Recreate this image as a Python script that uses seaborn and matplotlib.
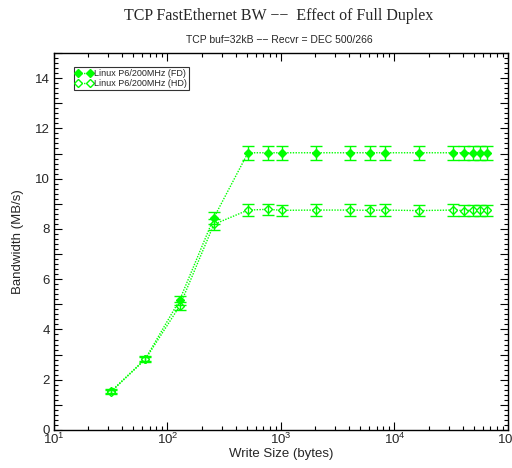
import matplotlib
matplotlib.use("Agg")
import matplotlib.pyplot as plt
import matplotlib.ticker as mticker
from matplotlib.lines import Line2D
import seaborn as sns
import pandas as pd
import numpy as np

sizes = [32, 64, 128, 256, 512, 768, 1024, 2048, 4096, 6144, 8192, 16384,
         32768, 40960, 49152, 57344, 65536]
fd_bw = [1.55, 2.84, 5.17, 8.44, 11.03, 11.03, 11.03, 11.03, 11.03, 11.03, 11.03,
         11.03, 11.03, 11.03, 11.03, 11.03, 11.03]
fd_err = [0.08, 0.1, 0.18, 0.23, 0.28, 0.28, 0.28, 0.28, 0.28, 0.28, 0.28,
          0.28, 0.28, 0.28, 0.28, 0.28, 0.28]
hd_bw = [1.53, 2.82, 4.93, 8.18, 8.75, 8.78, 8.74, 8.75, 8.75, 8.74, 8.75,
         8.73, 8.75, 8.73, 8.74, 8.74, 8.74]
hd_err = [0.08, 0.1, 0.15, 0.23, 0.23, 0.23, 0.23, 0.23, 0.23, 0.23, 0.23,
          0.23, 0.23, 0.23, 0.23, 0.23, 0.23]
labels = ["Linux P6/200MHz (FD)", "Linux P6/200MHz (HD)"]

sns.set_style("ticks")
plt.rcParams['font.family'] = ['Liberation Sans', 'DejaVu Sans']

df = pd.DataFrame({
    "size": sizes * 2,
    "bw": fd_bw + hd_bw,
    "series": [labels[0]] * len(sizes) + [labels[1]] * len(sizes),
})

fig = plt.figure(figsize=(5.12, 4.68), dpi=100)
ax = fig.add_axes([0.1055, 0.0812, 0.8865, 0.8056])

green = "#00ff00"
sns.lineplot(data=df, x="size", y="bw", hue="series", style="series",
             palette=[green, green], markers={labels[0]: "D", labels[1]: "D"},
             dashes={labels[0]: (1, 1), labels[1]: (1, 1)}, ax=ax, lw=1.0,
             markersize=4.2, markeredgewidth=1.0, legend=False)
lines = ax.get_lines()
lines[0].set_markerfacecolor(green)
lines[0].set_markeredgecolor(green)
lines[1].set_markerfacecolor("white")
lines[1].set_markeredgecolor(green)

ax.errorbar(sizes, fd_bw, yerr=fd_err, fmt="none", ecolor=green, elinewidth=1.0,
            capsize=4, capthick=1.0)
ax.errorbar(sizes, hd_bw, yerr=hd_err, fmt="none", ecolor=green, elinewidth=1.0,
            capsize=4, capthick=1.0)

ax.set_xscale("log")
ax.set_xlim(10, 1e5)
ax.set_ylim(0, 15)
ax.yaxis.set_major_locator(mticker.MultipleLocator(1))
ax.yaxis.set_minor_locator(mticker.MultipleLocator(0.2))
ax.yaxis.set_major_formatter(mticker.FuncFormatter(
    lambda v, p: f"{int(round(v))}" if int(round(v)) % 2 == 0 and int(round(v)) < 15 else ""))
ax.xaxis.set_major_locator(mticker.LogLocator(base=10, numticks=10))
ax.xaxis.set_minor_locator(mticker.LogLocator(base=10, subs=np.arange(2, 10), numticks=20))
ax.xaxis.set_minor_formatter(mticker.NullFormatter())
ax.tick_params(which="both", direction="in", top=True, right=True, labelsize=9.5,
               color="black", width=0.8)
ax.tick_params(which="major", length=6)
ax.tick_params(which="minor", length=3)
ax.tick_params(axis="x", which="major", pad=1)
ax.tick_params(axis="y", which="major", pad=3)
for s in ax.spines.values():
    s.set_linewidth(1.0)
    s.set_color("black")

ax.set_xlabel("Write Size (bytes)", fontsize=9.5, labelpad=1)
ax.set_ylabel("Bandwidth (MB/s)", fontsize=9.5, labelpad=8)

fig.text(0.545, 0.965, "TCP FastEthernet BW \u2212\u2212  Effect of Full Duplex",
         ha="center", va="center", fontsize=11.5, family=["Liberation Serif", "DejaVu Serif"])
fig.text(0.545, 0.914, "TCP buf=32kB \u2212\u2212 Recvr = DEC 500/266",
         ha="center", va="center", fontsize=7.5)

h1 = Line2D([], [], color=green, ls=(0, (1, 1)), marker="D", markersize=4.2,
            markerfacecolor=green, markeredgecolor=green, lw=1.0)
h2 = Line2D([], [], color=green, ls=(0, (1, 1)), marker="D", markersize=4.2,
            markerfacecolor="white", markeredgecolor=green, lw=1.0)
leg = ax.legend([h1, h2], labels, loc="upper left", bbox_to_anchor=(0.043, 0.962),
                fontsize=6.5, frameon=True, fancybox=False, borderpad=0.2,
                handlelength=1.9, handletextpad=0.2, labelspacing=0.1,
                borderaxespad=0, numpoints=2)
leg.get_frame().set_edgecolor("black")
leg.get_frame().set_linewidth(0.8)

fig.savefig("out.png", dpi=100)
